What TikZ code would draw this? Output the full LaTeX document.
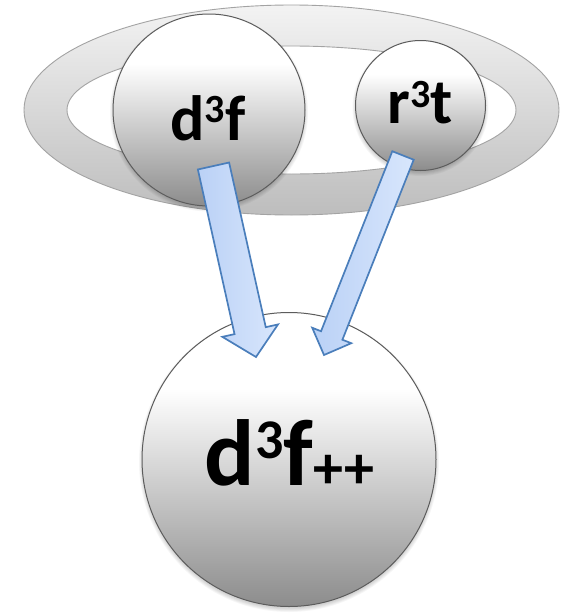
\documentclass[tikz,border=0pt]{standalone}
\usepackage{fontspec}
\setmainfont{Carlito}
\usetikzlibrary{calc}
\definecolor{ringtop}{HTML}{F3F3F3}
\definecolor{ringbot}{HTML}{BDBDBD}
\definecolor{ringline}{HTML}{A3A3A3}
\definecolor{ballbot}{HTML}{8C8C8C}
\definecolor{ballline}{HTML}{5C5C5C}
\definecolor{arrline}{HTML}{4A7EBB}
\definecolor{arrL}{HTML}{BAD1F6}
\definecolor{arrR}{HTML}{D8E6FC}
\pgfdeclareverticalshading{ringshade}{100bp}{color(0bp)=(ringbot); color(25bp)=(ringbot); color(75bp)=(ringtop); color(100bp)=(ringtop)}
\pgfdeclareverticalshading{ballshade}{100bp}{color(0bp)=(ballbot); color(25bp)=(ballbot); color(62bp)=(white); color(100bp)=(white)}
\newcommand{\softshadow}[2]{% #1 node name, #2 radius
  \foreach \k in {1,...,5}{\fill[black,opacity=0.035] ($(#1.center)+(0,2.5)$) circle ({#2-1.5+\k*0.9});}}
\newcommand{\cubedsup}[2]{\raisebox{#2}{\fontsize{#1}{#1}\selectfont 3}}
\newcommand{\blockarr}[5]{% #1 start, #2 end, #3 half shaft, #4 half head, #5 head length
  \coordinate (ban) at ($(#2)!#5!(#1)$);
  \draw[arrowbox] ($(#1)!#3!90:(#2)$) -- ($(ban)!#3!90:(#2)$) -- ($(ban)!#4!90:(#2)$) -- (#2)
    -- ($(ban)!#4!-90:(#2)$) -- ($(ban)!#3!-90:(#2)$) -- ($(#1)!#3!-90:(#2)$) -- cycle;}
\begin{document}
\begin{tikzpicture}[x=1pt,y=-1pt,
  ball/.style={circle, draw=ballline, line width=1pt, shade, shading=ballshade, inner sep=0pt, outer sep=0pt},
  ringedge/.style={draw=ringline, line width=0.9pt},
  arrowbox/.style={draw=arrline, line width=1.7pt, line join=miter, left color=arrL, right color=arrR},
  lbl/.style={inner sep=0pt, anchor=base, font=\bfseries}]
\useasboundingbox (0,0) rectangle (567,613);
\fill[white] (0,0) rectangle (567,613);
% ring
\coordinate (ringc) at (291.5,110);
\shade[shading=ringshade, even odd rule] (ringc) ellipse [x radius=267.5, y radius=105] (ringc) ellipse [x radius=224.5, y radius=64];
\draw[ringedge] (ringc) ellipse [x radius=267.5, y radius=105] (ringc) ellipse [x radius=224.5, y radius=64];
% circles
\coordinate (d3fc) at (209,110);
\coordinate (r3tc) at (420.5,105.5);
\coordinate (bigc) at (289,459.5);
\softshadow{d3fc}{96}
\node[ball, minimum size=192pt] (d3f) at (d3fc) {};
\softshadow{r3tc}{65}
\node[ball, minimum size=130pt] (r3t) at (r3tc) {};
\softshadow{bigc}{147}
\node[ball, minimum size=294pt] (big) at (bigc) {};
% labels
\node[lbl, font=\fontsize{64}{64}\selectfont\bfseries] (d3ft) at ($(d3f.center)+(-1,30)$) {d\cubedsup{40pt}{18pt}f};
\node[lbl, font=\fontsize{64}{64}\selectfont\bfseries] (r3tt) at ($(r3t.center)+(0,17.5)$) {r\cubedsup{40pt}{16pt}t};
\node[lbl, font=\fontsize{94}{94}\selectfont\bfseries] (bigt) at ($(big.center)+(0.5,26)$) {d\cubedsup{56pt}{27pt}f\raisebox{-3pt}{\fontsize{60}{60}\selectfont ++}};
% arrows
\coordinate (a1s) at ($(d3f.center)+(4.5,56)$);
\coordinate (a1e) at ($(big.center)+(-33,-102.5)$);
\coordinate (a2s) at ($(r3t.center)+(-17.5,50)$);
\coordinate (a2e) at ($(big.center)+(35,-104.5)$);
\blockarr{a1s}{a1e}{16pt}{28.5pt}{27pt}
\blockarr{a2s}{a2e}{11.5pt}{21pt}{21pt}
\end{tikzpicture}
\end{document}
